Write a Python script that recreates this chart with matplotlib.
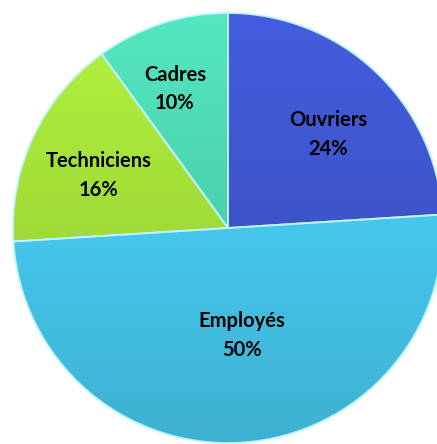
import numpy as np
import matplotlib.pyplot as plt
from matplotlib.colors import to_rgb

# Répartition du personnel par catégorie
categories = ["Ouvriers", "Employés", "Techniciens", "Cadres"]
parts = [24, 50, 16, 10]
colors = ["#4058D2", "#48D0F6", "#A8E63A", "#4FDAB6"]
# label placement: distance from centre (fraction of radius) and angular nudge (deg)
label_dist = [0.635, 0.505, 0.647, 0.692]
label_turn = [-3.8, 3.8, 3.2, 2.9]

fig = plt.figure(figsize=(4.37, 4.44), dpi=100)
ax = fig.add_axes([0, 0, 1, 1])

wedges, _ = ax.pie(parts, colors=colors, startangle=90, counterclock=False,
                   radius=1.0, wedgeprops=dict(edgecolor="none"))

# soft vertical shading: lighter on top, darker towards the bottom
shade = np.linspace(1.06, 0.85, 200)[:, None, None]
for w, c in zip(wedges, colors):
    rgb = np.clip(np.array(to_rgb(c))[None, None, :] * shade, 0, 1)
    im = ax.imshow(rgb, extent=(-1, 1, -1, 1), origin="upper",
                   aspect="auto", zorder=w.get_zorder() + 0.1, interpolation="bilinear")
    im.set_clip_path(w)
    w.set_edgecolor("#BDF3FF")
    w.set_linewidth(1.3)
    w.set_zorder(w.get_zorder() + 0.2)
    w.set_facecolor("none")

for w, name, p, d, t in zip(wedges, categories, parts, label_dist, label_turn):
    mid = np.deg2rad((w.theta1 + w.theta2) / 2 + t)
    ax.text(d * np.cos(mid), d * np.sin(mid), f"{name}\n{p}%",
            ha="center", va="center", fontsize=14.5, fontweight="bold",
            family="Lato", linespacing=1.55, color="black", zorder=5)

# the pie runs past the right and bottom edges
ax.set_xlim(-228 / 215, (437 - 228) / 215)
ax.set_ylim(-(444 - 228) / 215, 228 / 215)
ax.set_aspect("equal")
ax.axis("off")

fig.savefig("out.png", dpi=100)
